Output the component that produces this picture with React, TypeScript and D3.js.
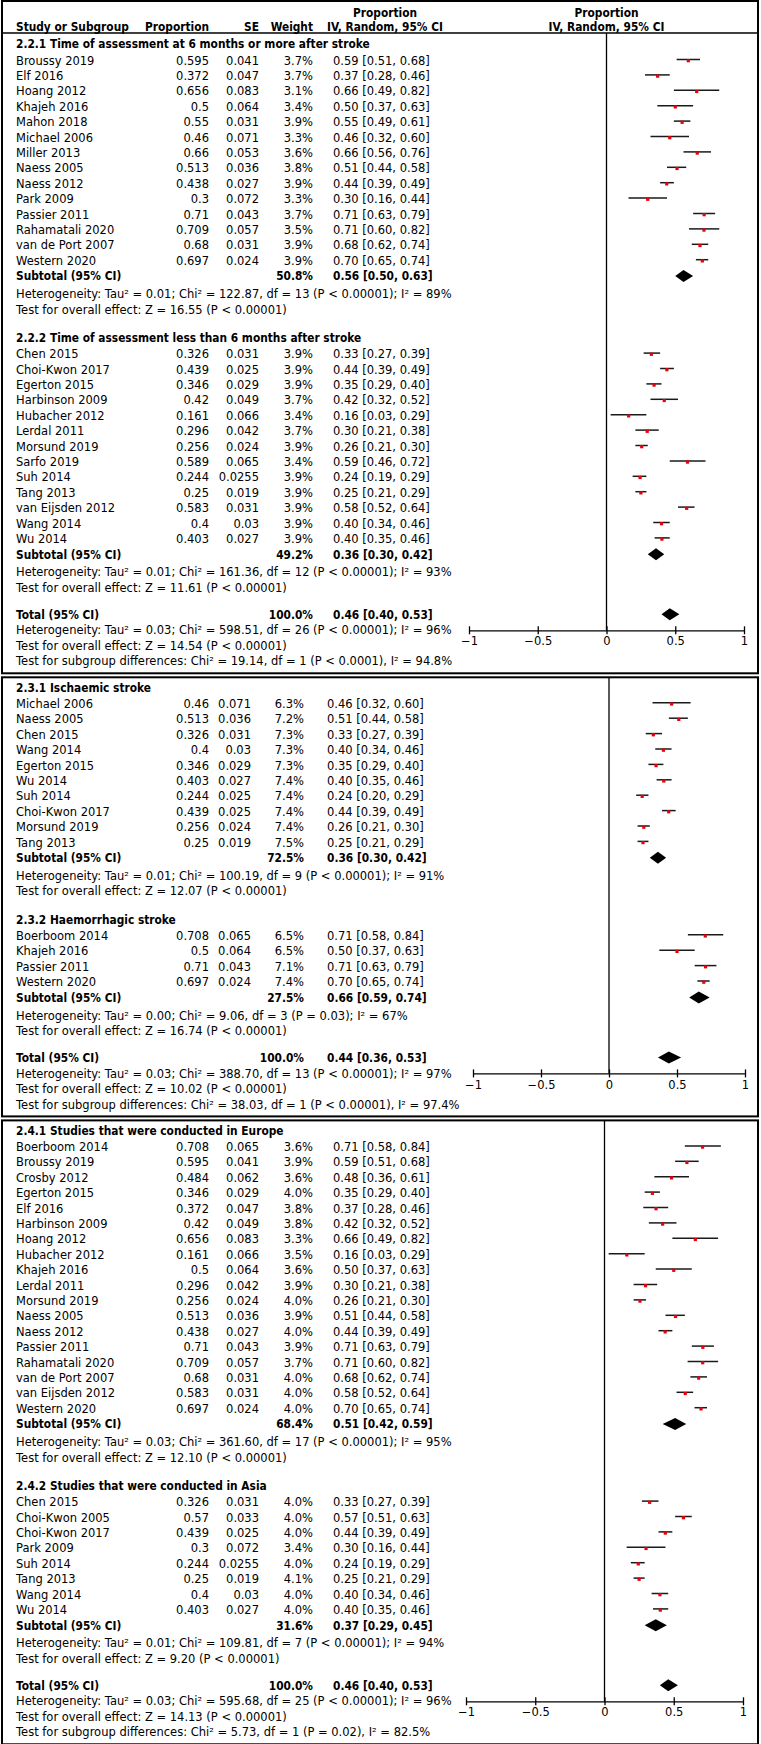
import * as d3 from "d3";
import { useEffect, useRef } from "react";

// [study, proportion, SE, weight %, lower CI, upper CI]
type Study = [string, number, number, number, number, number];
// [weight %, estimate, lower, upper]
type Pooled = [number, number, number, number];

const sixMonthsPlus: Study[] = [
  ["Broussy 2019", 0.595, 0.041, 3.7, 0.51, 0.68],
  ["Elf 2016", 0.372, 0.047, 3.7, 0.28, 0.46],
  ["Hoang 2012", 0.656, 0.083, 3.1, 0.49, 0.82],
  ["Khajeh 2016", 0.5, 0.064, 3.4, 0.37, 0.63],
  ["Mahon 2018", 0.55, 0.031, 3.9, 0.49, 0.61],
  ["Michael 2006", 0.46, 0.071, 3.3, 0.32, 0.6],
  ["Miller 2013", 0.66, 0.053, 3.6, 0.56, 0.76],
  ["Naess 2005", 0.513, 0.036, 3.8, 0.44, 0.58],
  ["Naess 2012", 0.438, 0.027, 3.9, 0.39, 0.49],
  ["Park 2009", 0.3, 0.072, 3.3, 0.16, 0.44],
  ["Passier 2011", 0.71, 0.043, 3.7, 0.63, 0.79],
  ["Rahamatali 2020", 0.709, 0.057, 3.5, 0.6, 0.82],
  ["van de Port 2007", 0.68, 0.031, 3.9, 0.62, 0.74],
  ["Western 2020", 0.697, 0.024, 3.9, 0.65, 0.74],
];

const underSixMonths: Study[] = [
  ["Chen 2015", 0.326, 0.031, 3.9, 0.27, 0.39],
  ["Choi-Kwon 2017", 0.439, 0.025, 3.9, 0.39, 0.49],
  ["Egerton 2015", 0.346, 0.029, 3.9, 0.29, 0.4],
  ["Harbinson 2009", 0.42, 0.049, 3.7, 0.32, 0.52],
  ["Hubacher 2012", 0.161, 0.066, 3.4, 0.03, 0.29],
  ["Lerdal 2011", 0.296, 0.042, 3.7, 0.21, 0.38],
  ["Morsund 2019", 0.256, 0.024, 3.9, 0.21, 0.3],
  ["Sarfo 2019", 0.589, 0.065, 3.4, 0.46, 0.72],
  ["Suh 2014", 0.244, 0.0255, 3.9, 0.19, 0.29],
  ["Tang 2013", 0.25, 0.019, 3.9, 0.21, 0.29],
  ["van Eijsden 2012", 0.583, 0.031, 3.9, 0.52, 0.64],
  ["Wang 2014", 0.4, 0.03, 3.9, 0.34, 0.46],
  ["Wu 2014", 0.403, 0.027, 3.9, 0.35, 0.46],
];

const ischaemic: Study[] = [
  ["Michael 2006", 0.46, 0.071, 6.3, 0.32, 0.6],
  ["Naess 2005", 0.513, 0.036, 7.2, 0.44, 0.58],
  ["Chen 2015", 0.326, 0.031, 7.3, 0.27, 0.39],
  ["Wang 2014", 0.4, 0.03, 7.3, 0.34, 0.46],
  ["Egerton 2015", 0.346, 0.029, 7.3, 0.29, 0.4],
  ["Wu 2014", 0.403, 0.027, 7.4, 0.35, 0.46],
  ["Suh 2014", 0.244, 0.025, 7.4, 0.2, 0.29],
  ["Choi-Kwon 2017", 0.439, 0.025, 7.4, 0.39, 0.49],
  ["Morsund 2019", 0.256, 0.024, 7.4, 0.21, 0.3],
  ["Tang 2013", 0.25, 0.019, 7.5, 0.21, 0.29],
];

const haemorrhagic: Study[] = [
  ["Boerboom 2014", 0.708, 0.065, 6.5, 0.58, 0.84],
  ["Khajeh 2016", 0.5, 0.064, 6.5, 0.37, 0.63],
  ["Passier 2011", 0.71, 0.043, 7.1, 0.63, 0.79],
  ["Western 2020", 0.697, 0.024, 7.4, 0.65, 0.74],
];

const europe: Study[] = [
  ["Boerboom 2014", 0.708, 0.065, 3.6, 0.58, 0.84],
  ["Broussy 2019", 0.595, 0.041, 3.9, 0.51, 0.68],
  ["Crosby 2012", 0.484, 0.062, 3.6, 0.36, 0.61],
  ["Egerton 2015", 0.346, 0.029, 4.0, 0.29, 0.4],
  ["Elf 2016", 0.372, 0.047, 3.8, 0.28, 0.46],
  ["Harbinson 2009", 0.42, 0.049, 3.8, 0.32, 0.52],
  ["Hoang 2012", 0.656, 0.083, 3.3, 0.49, 0.82],
  ["Hubacher 2012", 0.161, 0.066, 3.5, 0.03, 0.29],
  ["Khajeh 2016", 0.5, 0.064, 3.6, 0.37, 0.63],
  ["Lerdal 2011", 0.296, 0.042, 3.9, 0.21, 0.38],
  ["Morsund 2019", 0.256, 0.024, 4.0, 0.21, 0.3],
  ["Naess 2005", 0.513, 0.036, 3.9, 0.44, 0.58],
  ["Naess 2012", 0.438, 0.027, 4.0, 0.39, 0.49],
  ["Passier 2011", 0.71, 0.043, 3.9, 0.63, 0.79],
  ["Rahamatali 2020", 0.709, 0.057, 3.7, 0.6, 0.82],
  ["van de Port 2007", 0.68, 0.031, 4.0, 0.62, 0.74],
  ["van Eijsden 2012", 0.583, 0.031, 4.0, 0.52, 0.64],
  ["Western 2020", 0.697, 0.024, 4.0, 0.65, 0.74],
];

const asia: Study[] = [
  ["Chen 2015", 0.326, 0.031, 4.0, 0.27, 0.39],
  ["Choi-Kwon 2005", 0.57, 0.033, 4.0, 0.51, 0.63],
  ["Choi-Kwon 2017", 0.439, 0.025, 4.0, 0.39, 0.49],
  ["Park 2009", 0.3, 0.072, 3.4, 0.16, 0.44],
  ["Suh 2014", 0.244, 0.0255, 4.0, 0.19, 0.29],
  ["Tang 2013", 0.25, 0.019, 4.1, 0.21, 0.29],
  ["Wang 2014", 0.4, 0.03, 4.0, 0.34, 0.46],
  ["Wu 2014", 0.403, 0.027, 4.0, 0.35, 0.46],
];

const subgroupTitles = [
  "2.2.1 Time of assessment at 6 months or more after stroke",
  "2.2.2 Time of assessment less than 6 months after stroke",
  "2.3.1 Ischaemic stroke",
  "2.3.2 Haemorrhagic stroke",
  "2.4.1 Studies that were conducted in Europe",
  "2.4.2 Studies that were conducted in Asia",
];

const subtotals: Pooled[] = [
  [50.8, 0.56, 0.5, 0.63],
  [49.2, 0.36, 0.3, 0.42],
  [72.5, 0.36, 0.3, 0.42],
  [27.5, 0.66, 0.59, 0.74],
  [68.4, 0.51, 0.42, 0.59],
  [31.6, 0.37, 0.29, 0.45],
];

const subgroupHet = [
  "Heterogeneity: Tau² = 0.01; Chi² = 122.87, df = 13 (P < 0.00001); I² = 89%",
  "Heterogeneity: Tau² = 0.01; Chi² = 161.36, df = 12 (P < 0.00001); I² = 93%",
  "Heterogeneity: Tau² = 0.01; Chi² = 100.19, df = 9 (P < 0.00001); I² = 91%",
  "Heterogeneity: Tau² = 0.00; Chi² = 9.06, df = 3 (P = 0.03); I² = 67%",
  "Heterogeneity: Tau² = 0.03; Chi² = 361.60, df = 17 (P < 0.00001); I² = 95%",
  "Heterogeneity: Tau² = 0.01; Chi² = 109.81, df = 7 (P < 0.00001); I² = 94%",
];

const subgroupEffect = [
  "Test for overall effect: Z = 16.55 (P < 0.00001)",
  "Test for overall effect: Z = 11.61 (P < 0.00001)",
  "Test for overall effect: Z = 12.07 (P < 0.00001)",
  "Test for overall effect: Z = 16.74 (P < 0.00001)",
  "Test for overall effect: Z = 12.10 (P < 0.00001)",
  "Test for overall effect: Z = 9.20 (P < 0.00001)",
];

const totals: Pooled[] = [
  [100.0, 0.46, 0.4, 0.53],
  [100.0, 0.44, 0.36, 0.53],
  [100.0, 0.46, 0.4, 0.53],
];

const totalHet = [
  "Heterogeneity: Tau² = 0.03; Chi² = 598.51, df = 26 (P < 0.00001); I² = 96%",
  "Heterogeneity: Tau² = 0.03; Chi² = 388.70, df = 13 (P < 0.00001); I² = 97%",
  "Heterogeneity: Tau² = 0.03; Chi² = 595.68, df = 25 (P < 0.00001); I² = 96%",
];

const totalEffect = [
  "Test for overall effect: Z = 14.54 (P < 0.00001)",
  "Test for overall effect: Z = 10.02 (P < 0.00001)",
  "Test for overall effect: Z = 14.13 (P < 0.00001)",
];

const subgroupDiff = [
  "Test for subgroup differences: Chi² = 19.14, df = 1 (P < 0.0001), I² = 94.8%",
  "Test for subgroup differences: Chi² = 38.03, df = 1 (P < 0.00001), I² = 97.4%",
  "Test for subgroup differences: Chi² = 5.73, df = 1 (P = 0.02), I² = 82.5%",
];

const axisTicks = [-1, -0.5, 0, 0.5, 1];

const W = 761;
const H = 1744;
const FONT = "'DejaVu Sans', sans-serif";
const BOLD_FONT = "'DejaVu Sans Condensed', 'DejaVu Sans', sans-serif";
const FS = 11.5;
const FS_BOLD = 11.8;

// vertical spacing, px
const L = {
  pitch: 15.4,
  headToStudy: 16.5,
  subToHet: 18,
  hetToTest: 15.5,
  testToHead: 28,
  testToTotal: 26.5,
  totToHet: 16,
  line: 15.5,
  bottomPad: 12,
};

interface PanelCfg {
  groups: number[];
  studies: Study[][];
  header: boolean;
  cols: { name: number; prop: number; se: number; weight: number; ci: number };
  xRange: [number, number];
}

const panels: PanelCfg[] = [
  {
    groups: [0, 1],
    studies: [sixMonthsPlus, underSixMonths],
    header: true,
    cols: { name: 16, prop: 209, se: 259, weight: 313, ci: 333 },
    xRange: [469, 744],
  },
  {
    groups: [2, 3],
    studies: [ischaemic, haemorrhagic],
    header: false,
    cols: { name: 16, prop: 209, se: 251, weight: 304, ci: 327 },
    xRange: [473, 745],
  },
  {
    groups: [4, 5],
    studies: [europe, asia],
    header: false,
    cols: { name: 16, prop: 209, se: 259, weight: 313, ci: 333 },
    xRange: [466, 743],
  },
];

const f2 = d3.format(".2f");
const ciText = (e: number, lo: number, hi: number) => `${f2(e)} [${f2(lo)}, ${f2(hi)}]`;

export default function App() {
  const ref = useRef<SVGSVGElement>(null);

  useEffect(() => {
    if (!ref.current) return;
    const svg = d3.select(ref.current);
    svg.selectAll("*").remove();

    const text = (
      g: d3.Selection<SVGGElement, unknown, null, undefined>,
      x: number,
      y: number,
      s: string,
      anchor = "start",
      bold = false
    ) =>
      g
        .append("text")
        .attr("x", x)
        .attr("y", y)
        .attr("dy", "0.36em")
        .attr("text-anchor", anchor)
        .attr("font-family", bold ? BOLD_FONT : FONT)
        .attr("font-size", bold ? FS_BOLD : FS)
        .attr("font-weight", bold ? "bold" : "normal")
        .text(s);

    let top = 1;
    panels.forEach((p, pi) => {
      const g = svg
        .append("g")
        .attr("font-family", FONT)
        .attr("font-size", FS)
        .attr("fill", "#000");
      const x = d3.scaleLinear().domain([-1, 1]).range(p.xRange);
      const c = p.cols;

      if (p.header) {
        const ciMid = c.ci + 52;
        text(g, ciMid, top + 12, "Proportion", "middle", true);
        text(g, x(0), top + 12, "Proportion", "middle", true);
        text(g, c.name, top + 26, "Study or Subgroup", "start", true);
        text(g, c.prop, top + 26, "Proportion", "end", true);
        text(g, c.se, top + 26, "SE", "end", true);
        text(g, c.weight, top + 26, "Weight", "end", true);
        text(g, ciMid, top + 26, "IV, Random, 95% CI", "middle", true);
        text(g, x(0), top + 26, "IV, Random, 95% CI", "middle", true);
      }

      const marks = g.append("g");
      const diamond = (pool: Pooled, y: number) =>
        marks
          .append("path")
          .attr(
            "d",
            `M${x(pool[2])},${y}L${x(pool[1])},${y - 6}L${x(pool[3])},${y}L${x(pool[1])},${y + 6}Z`
          )
          .attr("fill", "#000");

      let y = p.header ? top + 43 : top + 10;
      p.groups.forEach((gi, k) => {
        if (k > 0) y += L.testToHead;
        text(g, c.name, y, subgroupTitles[gi], "start", true);
        y += L.headToStudy;
        p.studies[k].forEach((s, i) => {
          if (i > 0) y += L.pitch;
          const [name, prop, se, w, lo, hi] = s;
          text(g, c.name, y, name);
          text(g, c.prop, y, String(prop), "end");
          text(g, c.se, y, String(se), "end");
          text(g, c.weight, y, `${w.toFixed(1)}%`, "end");
          text(g, c.ci, y, ciText(prop, lo, hi));
          marks
            .append("line")
            .attr("x1", x(lo))
            .attr("x2", x(hi))
            .attr("y1", y - 1)
            .attr("y2", y - 1)
            .attr("stroke", "#1a1a1a")
            .attr("stroke-width", 1.5);
          marks
            .append("rect")
            .attr("x", x(prop) - 1.6)
            .attr("y", y - 1.4)
            .attr("width", 3.2)
            .attr("height", 3.2)
            .attr("fill", "#e8000b");
        });
        y += L.pitch;
        const sub = subtotals[gi];
        text(g, c.name, y, "Subtotal (95% CI)", "start", true);
        text(g, c.weight, y, `${sub[0].toFixed(1)}%`, "end", true);
        text(g, c.ci, y, ciText(sub[1], sub[2], sub[3]), "start", true);
        diamond(sub, y);
        y += L.subToHet;
        text(g, c.name, y, subgroupHet[gi]);
        y += L.hetToTest;
        text(g, c.name, y, subgroupEffect[gi]);
      });

      y += L.testToTotal;
      const tot = totals[pi];
      text(g, c.name, y, "Total (95% CI)", "start", true);
      text(g, c.weight, y, `${tot[0].toFixed(1)}%`, "end", true);
      text(g, c.ci, y, ciText(tot[1], tot[2], tot[3]), "start", true);
      diamond(tot, y);
      y += L.totToHet;
      text(g, c.name, y, totalHet[pi]);
      const axisY = y;
      y += L.line;
      text(g, c.name, y, totalEffect[pi]);
      y += L.line;
      text(g, c.name, y, subgroupDiff[pi]);
      const bottom = y + L.bottomPad;

      // zero line
      g.append("line")
        .attr("x1", x(0))
        .attr("x2", x(0))
        .attr("y1", p.header ? top + 32 : top)
        .attr("y2", axisY)
        .attr("stroke", "#000")
        .attr("stroke-width", 1.3);

      // axis
      const axis = d3
        .axisBottom(x)
        .tickValues(axisTicks)
        .tickFormat(d3.format("~g"))
        .tickSize(4)
        .tickSizeOuter(0);
      const ag = g
        .append("g")
        .attr("transform", `translate(0,${axisY})`)
        .call(axis);
      ag.select(".domain").attr("stroke", "#000").attr("stroke-width", 1.3);
      ag.selectAll(".tick line")
        .attr("y1", -4)
        .attr("y2", 4)
        .attr("stroke", "#000")
        .attr("stroke-width", 1.3);
      ag.selectAll(".tick text")
        .attr("y", 11)
        .attr("dy", "0.36em")
        .attr("fill", "#000")
        .attr("font-family", FONT)
        .attr("font-size", FS);

      if (p.header) {
        g.append("line")
          .attr("x1", 1)
          .attr("x2", W - 3)
          .attr("y1", top + 32)
          .attr("y2", top + 32)
          .attr("stroke", "#000")
          .attr("stroke-width", 1.3);
      }

      g.append("rect")
        .attr("x", 2)
        .attr("y", top)
        .attr("width", W - 5)
        .attr("height", bottom - top)
        .attr("fill", "none")
        .attr("stroke", "#000")
        .attr("stroke-width", 2);

      top = bottom + 4;
    });
  }, []);

  return (
    <svg
      ref={ref}
      width={W}
      height={H}
      style={{ position: "absolute", left: 0, top: 0, background: "#fff" }}
    />
  );
}
